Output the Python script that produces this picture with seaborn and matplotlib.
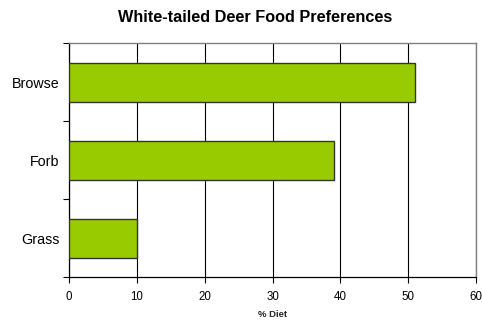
import matplotlib
matplotlib.use("Agg")
import matplotlib.pyplot as plt
from matplotlib.ticker import FixedLocator
import seaborn as sns
import pandas as pd

categories = ["Browse", "Forb", "Grass"]
diet_pct = [51, 39, 10]
x_ticks = [0, 10, 20, 30, 40, 50, 60]

df = pd.DataFrame({"Food": categories, "Diet": diet_pct})

sns.set_theme(style="white")
plt.rcParams["font.family"] = ["Liberation Sans", "DejaVu Sans"]

fig = plt.figure(figsize=(4.82, 3.20), dpi=100)
ax = fig.add_axes([0.1432, 0.134, 0.8444, 0.7316])

sns.barplot(data=df, x="Diet", y="Food", orient="h", width=0.5,
            color="#99CC00", saturation=1, edgecolor="#333333",
            linewidth=1.0, ax=ax, zorder=3)

ax.set_xlim(0, 60)
ax.set_ylim(2.5, -0.5)
ax.set_xticks(x_ticks)
ax.grid(axis="x", color="black", linewidth=0.8, zorder=0)
ax.grid(axis="y", visible=False)

# category labels without ticks; tick marks at band boundaries
ax.tick_params(axis="y", which="major", length=0, pad=7, labelsize=10.3,
               labelcolor="black")
ax.yaxis.set_minor_locator(FixedLocator([-0.5, 0.5, 1.5, 2.5]))
ax.tick_params(axis="y", which="minor", left=True, length=4, width=0.8,
               color="black")
ax.tick_params(axis="x", bottom=True, length=4, width=0.8, color="black",
               labelsize=8.3, labelcolor="black", pad=6)

for side in ["left", "bottom"]:
    ax.spines[side].set_color("black")
    ax.spines[side].set_linewidth(0.9)
for side in ["top", "right"]:
    ax.spines[side].set_color("#808080")
    ax.spines[side].set_linewidth(1.0)

ax.set_ylabel("")
ax.set_xlabel("% Diet", fontsize=6.8, fontweight="bold", labelpad=5)
fig.text(0.529, 0.945, "White-tailed Deer Food Preferences", ha="center",
         va="center", fontsize=11.7, fontweight="bold", color="black")

fig.savefig("out.png", dpi=100, facecolor="white")
